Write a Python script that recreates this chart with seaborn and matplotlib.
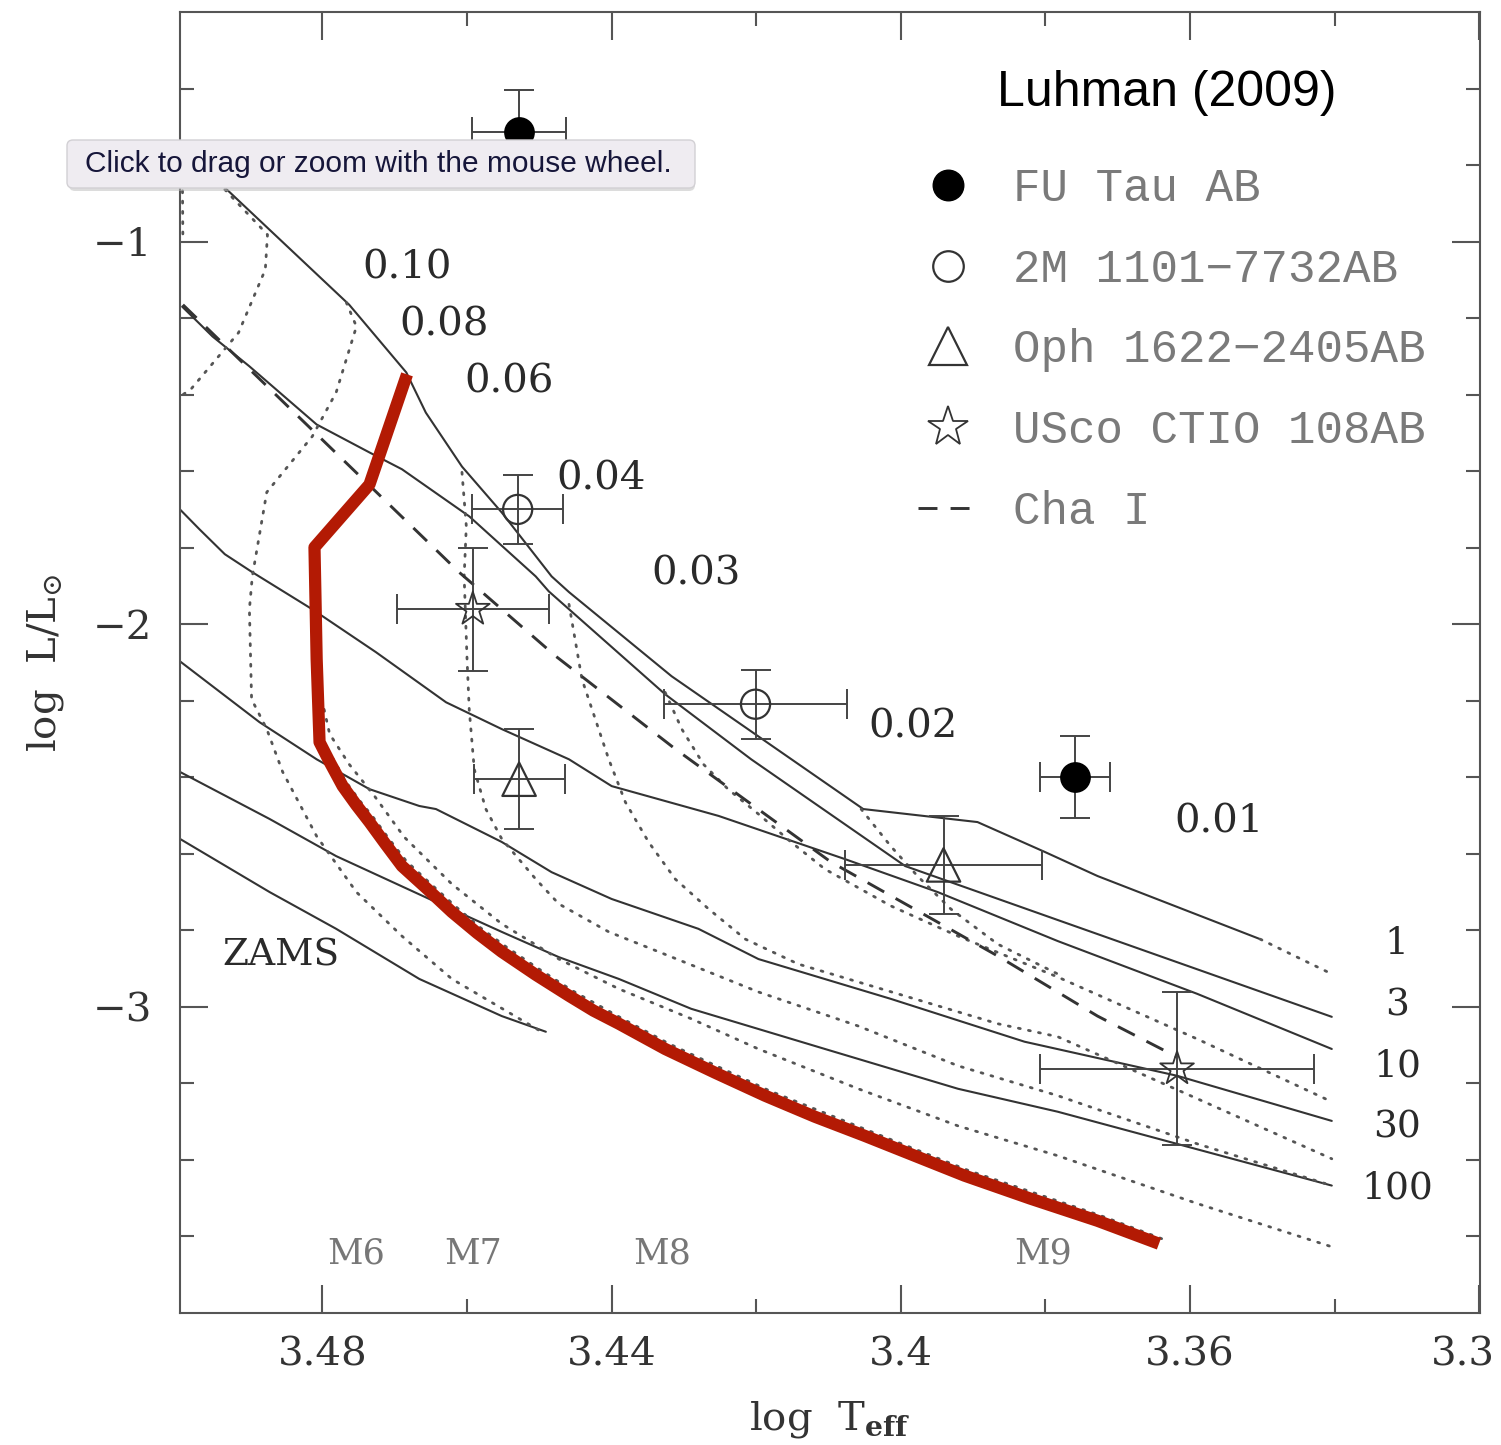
import numpy as np
import pandas as pd
import matplotlib
matplotlib.use("Agg")
import matplotlib.pyplot as plt
import seaborn as sns
from matplotlib.lines import Line2D
from matplotlib.patches import FancyBboxPatch
from matplotlib.ticker import FixedLocator, FixedFormatter

sns.set_theme(style="white")
plt.rcParams["font.family"] = ["DejaVu Serif", "DejaVu Sans"]
plt.rcParams["mathtext.fontset"] = "dejavuserif"

# ---------------- isochrones (solid) : log Teff, log L/Lsun ----------------
iso1_t = [3.4990, 3.4935, 3.4763, 3.4684, 3.4657, 3.4607, 3.4552, 3.4483, 3.4459, 3.4317, 3.4052, 3.3894, 3.3801, 3.3728, 3.3503]
iso1_l = [-0.755, -0.859, -1.165, -1.342, -1.447, -1.588, -1.708, -1.875, -1.916, -2.136, -2.483, -2.517, -2.595, -2.658, -2.823]
iso1x_t = [3.3503, 3.3404]
iso1x_l = [-2.823, -2.914]

iso3_t = [3.4994, 3.4952, 3.4901, 3.4808, 3.4735, 3.4690, 3.4597, 3.4505, 3.4487, 3.4326, 3.4207, 3.3994, 3.3783, 3.3404]
iso3_l = [-1.170, -1.248, -1.326, -1.478, -1.551, -1.595, -1.718, -1.875, -1.914, -2.183, -2.353, -2.632, -2.773, -3.026]

iso10_t = [3.4997, 3.4970, 3.4935, 3.4897, 3.4814, 3.4726, 3.4629, 3.4552, 3.4459, 3.4400, 3.4252, 3.4077, 3.3949, 3.3783, 3.3590, 3.3404]
iso10_l = [-1.700, -1.752, -1.817, -1.864, -1.961, -2.073, -2.204, -2.274, -2.353, -2.423, -2.501, -2.614, -2.700, -2.828, -2.966, -3.110]

iso30_t = [3.4997, 3.4887, 3.4808, 3.4735, 3.4666, 3.4643, 3.4552, 3.4483, 3.4400, 3.4280, 3.4197, 3.4014, 3.3829, 3.3618, 3.3404]
iso30_l = [-2.097, -2.256, -2.353, -2.431, -2.475, -2.483, -2.569, -2.648, -2.718, -2.796, -2.875, -2.979, -3.091, -3.180, -3.298]

iso100_t = [3.4997, 3.4873, 3.4781, 3.4643, 3.4552, 3.4473, 3.4390, 3.4290, 3.4105, 3.3921, 3.3783, 3.3618, 3.3404]
iso100_l = [-2.386, -2.509, -2.606, -2.726, -2.804, -2.870, -2.927, -3.005, -3.110, -3.214, -3.274, -3.358, -3.467]

zams_t = [3.4997, 3.4873, 3.4781, 3.4666, 3.4552, 3.4491]
zams_l = [-2.561, -2.700, -2.796, -2.927, -3.024, -3.065]

chai_t = [3.4993, 3.4611, 3.4477, 3.4312, 3.4097, 3.3866, 3.3728, 3.3618]
chai_l = [-1.165, -1.864, -2.084, -2.326, -2.621, -2.867, -3.024, -3.131]

# ---------------- mass tracks (dotted) ----------------
trA_t = [3.4994, 3.4993]
trA_l = [-0.760, -0.995]
tr010_t = [3.4935, 3.4876, 3.4879, 3.4916, 3.4982, 3.4997]
tr010_l = [-0.864, -0.982, -1.073, -1.238, -1.386, -1.405]
tr008_t = [3.4767, 3.4753, 3.4781, 3.4814, 3.4877, 3.4897, 3.4901, 3.4898, 3.4877, 3.4855, 3.4808, 3.4753, 3.4690, 3.4621, 3.4497]
tr008_l = [-1.159, -1.222, -1.394, -1.509, -1.655, -1.875, -1.961, -2.196, -2.274, -2.386, -2.554, -2.700, -2.815, -2.927, -3.065]
tr006_t = [3.4803, 3.4799, 3.4785, 3.4767, 3.4749, 3.4730, 3.4708, 3.4684, 3.4650, 3.4615, 3.4581, 3.4546, 3.4499,
           3.4454, 3.4385, 3.4320, 3.4182, 3.4044, 3.3906, 3.3723, 3.3639]
tr006_l = [-2.196, -2.308, -2.353, -2.413, -2.460, -2.504, -2.561, -2.619, -2.679, -2.739, -2.794, -2.843, -2.903,
           -2.958, -3.031, -3.097, -3.219, -3.324, -3.428, -3.546, -3.606]
trB_t = [3.4804, 3.4790, 3.4763, 3.4728, 3.4687, 3.4621, 3.4552, 3.4473, 3.4390, 3.4290, 3.4197, 3.4059, 3.3921, 3.3783, 3.3590, 3.3404]
trB_l = [-2.170, -2.287, -2.366, -2.449, -2.556, -2.679, -2.783, -2.875, -2.953, -3.031, -3.110, -3.214, -3.311, -3.389, -3.514, -3.627]
tr004_t = [3.4607, 3.4601, 3.4604, 3.4600, 3.4597, 3.4590, 3.4574, 3.4552, 3.4505, 3.4473, 3.4404, 3.4335, 3.4197, 3.4059, 3.3921, 3.3783, 3.3590, 3.3404]
tr004_l = [-1.603, -1.744, -1.875, -2.091, -2.222, -2.379, -2.483, -2.561, -2.666, -2.731, -2.804, -2.856, -2.961, -3.050, -3.154, -3.232, -3.358, -3.467]
tr003_t = [3.4459, 3.4441, 3.4404, 3.4381, 3.4349, 3.4312, 3.4266, 3.4215, 3.4142, 3.4004, 3.3866, 3.3783, 3.3590, 3.3404]
tr003_l = [-1.948, -2.144, -2.353, -2.465, -2.569, -2.666, -2.744, -2.823, -2.888, -2.966, -3.044, -3.078, -3.240, -3.397]
tr002_t = [3.4326, 3.4303, 3.4273, 3.4239, 3.4197, 3.4152, 3.4105, 3.4014, 3.3921, 3.3783, 3.3590, 3.3404]
tr002_l = [-2.178, -2.274, -2.366, -2.431, -2.496, -2.569, -2.640, -2.736, -2.815, -2.922, -3.084, -3.248]
tr001_t = [3.4055, 3.4014, 3.3977, 3.3931, 3.3866, 3.3783]
tr001_l = [-2.483, -2.580, -2.658, -2.744, -2.836, -2.914]

# ---------------- red curve ----------------
red_t = [3.4683, 3.4735, 3.4811, 3.4808, 3.4804, 3.4790, 3.4772, 3.4753, 3.4735, 3.4713, 3.4690, 3.4655,
         3.4621, 3.4586, 3.4552, 3.4505, 3.4459, 3.4425, 3.4390, 3.4326, 3.4257, 3.4188, 3.4119, 3.4050,
         3.3981, 3.3912, 3.3821, 3.3728, 3.3643]
red_l = [-1.347, -1.635, -1.799, -2.091, -2.308, -2.360, -2.423, -2.473, -2.517, -2.574, -2.632, -2.692,
         -2.752, -2.807, -2.856, -2.916, -2.971, -3.010, -3.044, -3.110, -3.172, -3.232, -3.287, -3.337,
         -3.389, -3.441, -3.501, -3.559, -3.619]

# ---------------- binaries ----------------
fu_t = [3.4528, 3.3759]; fu_l = [-0.713, -2.400]; fu_xe = [0.0065, 0.0048]; fu_ye = [0.11, 0.107]
m2_t = [3.4530, 3.4201]; m2_l = [-1.700, -2.209]; m2_xe = [0.0063, 0.0127]; m2_ye = [0.09, 0.09]
oph_t = [3.4528, 3.3941]; oph_l = [-2.405, -2.629]; oph_xe = [0.0063, 0.0136]; oph_ye = [0.13, 0.128]
us_t = [3.4592, 3.3618]; us_l = [-1.961, -3.162]; us_xe = [0.0105, 0.019]; us_ye = [0.16, 0.20]

legend_labels = ["FU Tau AB", "2M 1101\u22127732AB", "Oph 1622\u22122405AB", "USco CTIO 108AB", "Cha I"]

mass_labels = ["0.10", "0.08", "0.06", "0.04", "0.03", "0.02", "0.01"]
mass_lab_t = [3.4683, 3.4632, 3.4542, 3.4414, 3.4283, 3.3983, 3.3560]
mass_lab_l = [-1.068, -1.217, -1.368, -1.621, -1.870, -2.269, -2.517]

age_labels = ["1", "3", "10", "30", "100"]
age_lab_t = [3.3314] * 5
age_lab_l = [-2.836, -2.997, -3.157, -3.316, -3.475]

spt_labels = ["M6", "M7", "M8", "M9"]
spt_t = [3.4754, 3.4592, 3.4330, 3.3803]
spt_l = [-3.645] * 4

xticks_major = [3.48, 3.44, 3.40, 3.36, 3.32]
xtick_labels = ["3.48", "3.44", "3.4", "3.36", ""]
edge_label = "3.3"          # last x tick label, cut by the image edge in the original
edge_label_t = 3.3222
xticks_minor = [3.46, 3.42, 3.38, 3.34]
yticks_major = [-1, -2, -3]
ytick_labels = ["\u22121", "\u22122", "\u22123"]
yticks_minor = [-0.6, -0.8, -1.2, -1.4, -1.6, -1.8, -2.2, -2.4, -2.6, -2.8, -3.2, -3.4, -3.6]

# ---------------- figure ----------------
W, H = 1501, 1445
fig = plt.figure(figsize=(W / 100, H / 100), dpi=100)
ax = fig.add_axes([180 / W, 1 - 1313 / H, 1300 / W, 1301 / H])
ax.set_facecolor("white")

def sline(t, l, **kw):
    d = pd.DataFrame({"t": t, "l": l})
    sns.lineplot(data=d, x="t", y="l", ax=ax, sort=False, estimator=None, legend=False, **kw)

for t, l in [(iso1_t, iso1_l), (iso3_t, iso3_l), (iso10_t, iso10_l), (iso30_t, iso30_l),
             (iso100_t, iso100_l), (zams_t, zams_l)]:
    sline(t, l, color="#333333", lw=1.5, solid_joinstyle="round")

for t, l in [(iso1x_t, iso1x_l), (trA_t, trA_l), (tr010_t, tr010_l), (tr008_t, tr008_l), (tr006_t, tr006_l),
             (trB_t, trB_l), (tr004_t, tr004_l), (tr003_t, tr003_l), (tr002_t, tr002_l), (tr001_t, tr001_l)]:
    sline(t, l, color="#555555", lw=2.0, linestyle=(0, (0.7, 3.0)), dash_capstyle="round")

sline(chai_t, chai_l, color="#333333", lw=2.1, linestyle=(0, (6.5, 4.5)))

sline(red_t, red_l, color="#b31a04", lw=8.8, zorder=6, solid_capstyle="butt", solid_joinstyle="round")

# binaries
ek = dict(fmt="none", ecolor="#444444", elinewidth=1.4, capsize=10.8, capthick=1.4, zorder=7)
ax.errorbar(fu_t, fu_l, xerr=fu_xe, yerr=fu_ye, **ek)
ax.errorbar(m2_t, m2_l, xerr=m2_xe, yerr=m2_ye, **ek)
ax.errorbar(oph_t, oph_l, xerr=oph_xe, yerr=oph_ye, **ek)
ax.errorbar(us_t, us_l, xerr=us_xe, yerr=us_ye, **ek)

sns.scatterplot(x=fu_t, y=fu_l, ax=ax, marker="o", s=420, color="black", edgecolor="black", zorder=8, legend=False)
sns.scatterplot(x=m2_t, y=m2_l, ax=ax, marker="o", s=440, facecolor="none", edgecolor="#333333", linewidth=1.6, zorder=8, legend=False)
sns.scatterplot(x=oph_t, y=oph_l, ax=ax, marker="^", s=580, facecolor="none", edgecolor="#333333", linewidth=1.6, zorder=8, legend=False)
sns.scatterplot(x=us_t, y=us_l, ax=ax, marker="*", s=650, facecolor="none", edgecolor="#333333", linewidth=1.3, zorder=8, legend=False)

# labels
for s, t, l in zip(mass_labels, mass_lab_t, mass_lab_l):
    ax.text(t, l, s, fontsize=29, color="#2a2a2a", ha="center", va="center")
for s, t, l in zip(age_labels, age_lab_t, age_lab_l):
    ax.text(t, l, s, fontsize=27, color="#2a2a2a", ha="center", va="center")
for s, t, l in zip(spt_labels, spt_t, spt_l):
    ax.text(t, l, s, fontsize=25, color="#777777", ha="center", va="center")
ax.text(3.4857, -2.867, "ZAMS", fontsize=27, color="#2a2a2a", ha="center", va="center")

# axes
ax.set_xlim(3.4997, 3.3199)
ax.set_ylim(-3.80, -0.40)
ax.xaxis.set_major_locator(FixedLocator(xticks_major))
ax.xaxis.set_major_formatter(FixedFormatter(xtick_labels))
ax.xaxis.set_minor_locator(FixedLocator(xticks_minor))
ax.yaxis.set_major_locator(FixedLocator(yticks_major))
ax.yaxis.set_major_formatter(FixedFormatter(ytick_labels))
ax.yaxis.set_minor_locator(FixedLocator(yticks_minor))
ax.tick_params(which="both", direction="in", top=True, right=True, bottom=True, left=True,
               color="#555555", width=1.5, labelcolor="#333333")
ax.tick_params(which="major", length=20)
ax.tick_params(which="minor", length=10)
ax.tick_params(axis="x", which="major", labelsize=29, pad=17)
ax.tick_params(axis="y", which="major", labelsize=29, pad=20)
for sp in ax.spines.values():
    sp.set_color("#555555")
    sp.set_linewidth(1.5)
    sp.set_visible(True)

ax.text(edge_label_t, -0.0325, edge_label, transform=ax.get_xaxis_transform(), fontsize=29,
        color="#333333", ha="center", va="center", clip_on=False)

ax.set_xlabel(r"log  T$_{\bf eff}$", fontsize=29, color="#333333")
ax.set_ylabel(r"log  L/L$_{\odot}$", fontsize=29, color="#333333")
ax.xaxis.set_label_coords(0.5, -0.0822)
ax.xaxis.label.set_va("center")
ax.yaxis.set_label_coords(-0.1038, 0.5)
ax.yaxis.label.set_va("center")

# legend
handles = [
    Line2D([], [], ls="none", marker="o", ms=22, mfc="black", mec="black"),
    Line2D([], [], ls="none", marker="o", ms=22, mfc="none", mec="#333333", mew=1.6),
    Line2D([], [], ls="none", marker="^", ms=27, mfc="none", mec="#333333", mew=1.6),
    Line2D([], [], ls="none", marker="*", ms=30, mfc="none", mec="#333333", mew=1.3),
    Line2D([], [], color="#333333", lw=2.1, ls=(0, (6.5, 4.5))),
]
leg = ax.legend(handles, legend_labels, loc="upper left", bbox_to_anchor=(0.5677, 0.8809),
                frameon=False, borderpad=0, borderaxespad=0, handlelength=1.3, handletextpad=0.78,
                labelspacing=0.8, prop={"family": "Liberation Mono", "size": 33})
for txt in leg.get_texts():
    txt.set_color("#7a7a7a")

fig.text(1167 / W, 1 - 93 / H, "Luhman (2009)", fontsize=36, family="Liberation Sans",
         color="black", ha="center", va="center")

# tooltip overlay
shadow = FancyBboxPatch((69 / W, 1 - 191 / H), 626 / W, 48 / H, boxstyle="round,pad=0,rounding_size=0.004",
                        transform=fig.transFigure, facecolor="#bbbbbb", edgecolor="none", alpha=0.5, zorder=20)
box = FancyBboxPatch((67 / W, 1 - 188 / H), 628 / W, 48 / H, boxstyle="round,pad=0,rounding_size=0.004",
                     transform=fig.transFigure, facecolor="#efecf1", edgecolor="#d2d0d4", lw=1.0, zorder=21)
fig.patches.extend([shadow, box])
fig.text(378 / W, 1 - 164 / H, "Click to drag or zoom with the mouse wheel.", fontsize=21.5,
         family="Liberation Sans", color="#16163a", ha="center", va="center", zorder=22)

fig.savefig("out.png", dpi=100)
